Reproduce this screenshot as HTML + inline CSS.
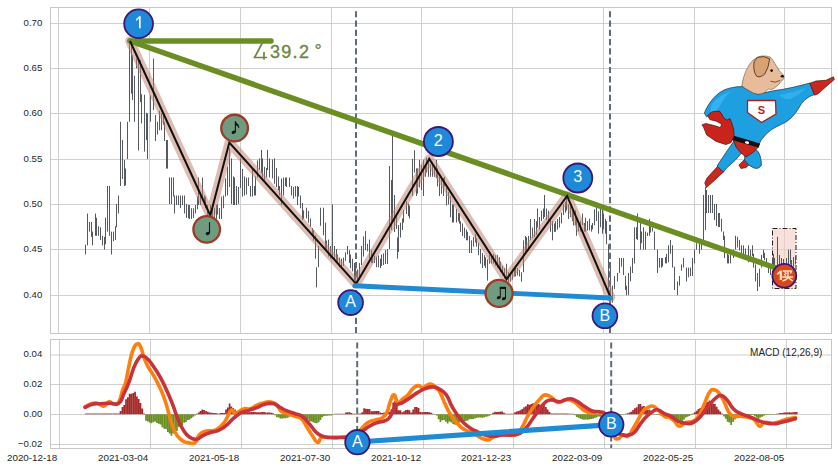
<!DOCTYPE html>
<html><head><meta charset="utf-8"><title>chart</title>
<style>html,body{margin:0;padding:0;background:#fff;}svg{display:block;font-family:"Liberation Sans",sans-serif;}</style>
</head><body>
<svg width="838" height="471" viewBox="0 0 838 471">
<rect x="0" y="0" width="838" height="471" fill="#fff"/>
<path d="M58.5 7.5V333.5M149.5 7.5V333.5M240.5 7.5V333.5M331.5 7.5V333.5M421.5 7.5V333.5M512.5 7.5V333.5M603.5 7.5V333.5M694.5 7.5V333.5M784.5 7.5V333.5M59.5 339.5V448.5M150.5 339.5V448.5M241.5 339.5V448.5M332.5 339.5V448.5M423.5 339.5V448.5M513.5 339.5V448.5M604.5 339.5V448.5M695.5 339.5V448.5M786.5 339.5V448.5M50.5 23.5H831.5M50.5 68.5H831.5M50.5 113.5H831.5M50.5 159.5H831.5M50.5 204.5H831.5M50.5 249.5H831.5M50.5 295.5H831.5M50.5 355.0H831.5M50.5 384.5H831.5M50.5 414.5H831.5M50.5 444.5H831.5" stroke="#c6c6c6" stroke-width="0.85" fill="none"/>
<rect x="772.5" y="228.5" width="23.5" height="60" fill="#f4cfc3" fill-opacity="0.62" stroke="#2a1a1a" stroke-width="1" stroke-dasharray="5 2 1 2"/>
<path d="M85.5 244.7V254.5M87.5 213.5V245.4M89.5 222.0V231.6M91.5 222.0V236.9M92.5 231.6V245.4M95.5 213.5V235.8M96.5 217.8V235.8M98.5 226.3V235.8M100.5 227.3V240.0M102.5 235.8V245.4M104.5 236.9V249.6M105.5 217.8V244.3M107.5 185.9V231.6M109.5 185.9V235.8M111.5 231.6V254.5M113.5 231.6V241.1M115.5 226.3V240.0M116.5 204.0V227.3M118.5 195.5V213.5M169.5 177.4V204.0M171.5 177.4V204.0M173.5 177.4V196.5M174.5 195.5V213.5M176.5 195.5V205.0M178.5 195.5V205.0M180.5 195.5V208.2M182.5 195.5V205.0M184.5 195.5V213.5M186.5 204.0V217.8M188.5 205.0V218.4M612.5 285.7V302.7M614.5 276.1V288.9M617.5 272.9V281.4M619.5 258.0V272.9M621.5 258.0V266.6M623.5 258.0V275.0M625.5 276.0V290.0M626.5 285.7V295.2M628.5 273.0V295.2M630.5 266.6V281.4M632.5 258.0V273.0M634.5 227.3V263.4M636.5 227.3V239.0M637.5 213.5V240.0M640.5 223.0V249.6M641.5 231.5V243.2M643.5 227.3V249.6M645.5 231.5V249.6M647.5 232.6V236.0M649.5 218.8V235.8M650.5 226.2V232.6M652.5 227.3V231.5M654.5 231.5V249.6M657.5 249.6V273.0M659.5 258.0V267.6M661.5 258.0V267.6M662.5 258.0V266.6M665.5 257.0V263.4M666.5 253.8V263.4M668.5 245.3V262.3M670.5 240.0V253.8M672.5 245.3V267.6M674.5 266.6V290.0M677.5 281.4V295.2M679.5 276.0V285.7M681.5 264.4V270.8M683.5 258.0V267.6M686.5 267.6V281.4M688.5 267.6V277.2M690.5 267.6V276.1M692.5 258.0V276.0M694.5 249.6V263.4M696.5 243.2V249.6M699.5 243.2V253.8M701.5 242.2V249.6M703.5 195.0V240.0M705.5 187.0V230.0M706.5 190.0V213.0M708.5 195.0V213.0M710.5 195.0V213.0M712.5 195.0V213.0M714.5 204.0V220.0M716.5 204.0V226.0M718.5 213.0V227.0M719.5 213.0V227.0M721.5 218.8V231.5M723.5 231.5V240.0M724.5 235.8V258.0M727.5 253.8V263.4M728.5 254.9V263.4M730.5 252.8V263.4M733.5 249.6V258.0M735.5 235.8V249.6M737.5 236.8V247.5M739.5 240.0V250.6M741.5 245.3V253.8M743.5 245.3V258.0M745.5 248.5V259.0M748.5 245.3V262.3M750.5 249.6V258.0M752.5 245.3V256.0M753.5 253.8V267.6M755.5 264.4V281.4M757.5 273.0V291.0M759.5 268.7V286.7M761.5 255.0V267.6M763.5 249.6V258.0M764.5 252.8V260.2M766.5 258.0V266.0M768.5 266.6V273.0M770.5 264.4V275.0M772.5 258.0V268.0M773.5 253.8V266.6M774.5 258.0V266.6M777.5 236.8V266.6M779.5 255.0V265.5M781.5 258.0V265.5M783.5 259.0V265.5M786.5 258.0V264.4M788.5 249.6V264.4M790.5 249.6V264.0M791.5 260.0V266.6M793.5 257.0V266.6M795.5 256.0V264.4M120.5 121.8V185.9M122.5 140.0V179.0M124.5 160.0V186.0M125.5 168.5V185.5M127.5 121.8V159.0M129.5 42.7V121.8M131.5 44.9V93.7M132.5 55.0V100.0M134.5 75.6V121.8M136.5 58.7V68.2M138.5 59.7V150.5M140.5 60.0V102.0M141.5 94.2V123.4M144.5 94.8V151.6M146.5 112.8V140.0M147.5 113.4V159.0M150.5 95.3V121.8M153.5 58.7V110.0M155.5 115.0V141.0M157.5 121.8V134.6M159.5 110.7V130.3M161.5 113.4V130.3M163.5 113.4V125.0M164.5 121.8V141.0M166.5 140.0V168.6M167.5 140.0V168.6M189.5 205.0V218.9M191.5 208.2V218.9M193.5 208.2V217.8M195.5 205.0V213.5M197.5 196.6V209.3M198.5 177.5V205.0M200.5 195.5V205.0M202.5 177.5V198.7M204.5 195.5V205.0M205.5 196.6V208.2M207.5 205.0V215.7M210.5 205.0V215.7M212.5 204.0V216.7M214.5 208.2V220.0M216.5 205.0V218.9M217.5 204.0V214.6M219.5 208.0V219.0M221.5 196.6V218.9M223.5 195.5V208.2M225.5 178.5V196.6M227.5 166.8V195.5M229.5 147.7V187.0M231.5 158.4V204.0M233.5 176.4V205.0M234.5 177.5V205.0M236.5 186.0V205.0M238.5 187.0V204.0M240.5 158.4V188.0M242.5 169.0V196.6M244.5 176.4V195.5M246.5 177.5V194.5M248.5 177.5V186.0M250.5 186.0V196.6M252.5 169.0V196.6M254.5 186.0V195.5M255.5 176.4V195.5M257.5 160.5V177.5M259.5 158.4V170.0M261.5 149.9V173.2M262.5 158.4V177.5M264.5 166.8V180.6M266.5 168.0V177.5M267.5 149.9V170.0M269.5 158.4V177.5M272.5 159.4V178.5M274.5 158.4V183.8M276.5 168.0V187.0M278.5 176.4V190.2M279.5 186.0V195.5M281.5 178.5V205.0M283.5 177.5V195.5M285.5 177.5V186.0M286.5 177.5V187.0M289.5 177.5V187.0M291.5 186.0V195.5M293.5 187.0V198.7M295.5 186.0V196.6M297.5 186.0V205.0M298.5 187.0V196.6M300.5 195.5V208.2M302.5 203.0V220.0M303.5 210.4V218.9M306.5 207.7V218.4M308.5 211.0V222.6M310.5 218.4V226.8M312.5 228.0V235.3M313.5 230.0V240.6M315.5 235.3V258.7M316.5 267.2V287.4M318.5 246.0V267.2M320.5 207.7V225.8M323.5 207.7V235.3M325.5 222.6V250.2M326.5 240.6V250.2M328.5 239.6V256.6M330.5 246.0V258.7M332.5 204.5V258.7M334.5 246.0V258.7M336.5 249.0V260.8M337.5 254.5V263.0M339.5 257.6V267.2M341.5 258.7V267.2M343.5 257.6V266.0M345.5 252.3V260.8M347.5 246.0V254.5M349.5 250.2V263.0M350.5 254.5V268.2M352.5 258.7V271.4M354.5 263.0V280.0M355.5 267.2V282.0M357.5 269.3V280.0M359.5 263.0V276.7M361.5 246.0V265.0M363.5 236.4V256.6M365.5 231.0V250.2M367.5 243.8V251.3M369.5 239.6V258.7M371.5 250.2V263.0M372.5 254.5V263.0M374.5 255.5V263.0M376.5 256.6V267.2M378.5 255.5V267.2M380.5 258.7V268.2M381.5 254.5V266.0M383.5 253.4V265.0M385.5 250.2V264.0M387.5 249.0V264.0M389.5 166.0V249.0M391.5 180.0V230.0M392.5 135.4V220.0M394.5 195.0V232.0M396.5 213.0V229.0M397.5 237.5V258.7M398.5 225.0V252.0M400.5 222.6V237.5M402.5 218.4V230.0M403.5 210.0V222.6M406.5 201.4V214.0M408.5 203.5V216.2M409.5 205.6V218.4M412.5 158.8V196.0M414.5 150.3V172.6M416.5 168.4V196.0M417.5 168.4V193.8M419.5 159.9V187.5M421.5 165.0V190.0M423.5 159.9V196.0M425.5 166.2V176.8M426.5 157.7V172.6M428.5 157.7V176.8M430.5 164.0V176.8M432.5 164.0V176.8M434.5 166.2V176.8M436.5 159.9V178.0M437.5 168.4V186.4M439.5 176.8V196.0M441.5 178.0V193.8M443.5 178.0V196.0M444.5 176.8V186.4M446.5 187.5V205.5M448.5 191.7V204.4M450.5 196.0V217.2M452.5 204.4V222.5M453.5 204.4V222.5M456.5 208.7V222.5M458.5 213.0V221.4M459.5 213.0V223.6M460.5 221.2V231.8M462.5 223.4V236.0M464.5 227.6V238.2M466.5 229.7V240.3M467.5 231.8V240.3M469.5 236.0V253.0M471.5 240.3V253.0M473.5 237.2V246.7M475.5 234.0V242.5M476.5 238.2V246.7M478.5 242.5V255.2M480.5 248.8V263.7M482.5 253.0V268.0M484.5 255.2V265.8M485.5 257.3V268.0M487.5 259.4V280.7M489.5 255.2V263.7M491.5 255.2V263.7M493.5 254.0V263.7M495.5 255.2V265.8M497.5 255.2V268.0M499.5 257.3V270.0M500.5 261.6V272.2M502.5 265.8V275.4M504.5 268.0V278.6M506.5 263.7V279.6M508.5 272.2V281.7M510.5 273.2V281.7M512.5 270.0V279.6M514.5 268.0V276.4M515.5 265.8V276.4M517.5 268.0V275.4M519.5 270.0V276.4M521.5 272.2V281.7M523.5 240.3V272.2M525.5 236.0V253.0M526.5 237.2V253.0M528.5 236.0V251.0M530.5 219.0V240.3M532.5 227.6V238.2M534.5 219.0V237.2M536.5 221.2V235.0M537.5 208.5V227.6M539.5 217.0V229.7M541.5 210.6V221.2M543.5 208.5V219.0M544.5 195.0V217.0M546.5 208.5V220.2M548.5 210.6V223.4M550.5 219.0V231.8M552.5 221.2V240.3M554.5 223.4V231.8M555.5 221.2V231.8M557.5 219.0V229.7M559.5 217.0V227.6M561.5 212.7V223.4M563.5 204.2V214.9M565.5 202.0V212.7M566.5 195.9V210.6M568.5 204.2V219.0M570.5 206.4V217.0M572.5 208.5V221.2M573.5 210.6V225.5M575.5 210.3V225.2M576.5 218.8V235.8M578.5 223.0V231.6M580.5 221.0V231.6M582.5 213.5V225.2M584.5 223.0V231.6M585.5 217.8V231.6M587.5 221.0V230.5M589.5 218.8V230.5M591.5 225.2V231.6M592.5 223.0V229.4M594.5 209.3V225.2M596.5 206.0V221.0M598.5 211.4V233.7M600.5 207.2V227.3M602.5 209.3V233.7M603.5 213.5V229.4M605.5 218.8V233.7M606.5 221.0V244.3M608.5 244.3V290.0M610.5 268.0V301.0" stroke="#4c5158" stroke-width="1" fill="none" opacity="0.95"/>
<path d="M356 11.2V333.5M357.2 342.4V448.5M610 11.2V333.5M611.2 342.4V448.5" stroke="#5f6b78" stroke-width="2" stroke-dasharray="6.15 3.14" fill="none"/>
<polyline points="130,41 210.3,215.5 229.3,142.5 356.1,283.8 429.3,159 506.6,279.2 567.1,195.9 610.6,297.3" fill="none" stroke="#bd7d65" stroke-opacity="0.5" stroke-width="9.5" stroke-linejoin="round" stroke-linecap="round"/>
<path d="M130 41L786 271.5" stroke="#6b8e23" stroke-width="5.5" stroke-linecap="round" fill="none"/>
<path d="M130 41H271" stroke="#6b8e23" stroke-width="5.5" stroke-linecap="round" fill="none"/>
<polyline points="130,41 210.3,215.5 229.3,142.5 356.1,283.8 429.3,159 506.6,279.2 567.1,195.9 610.6,297.3" fill="none" stroke="#111" stroke-width="2" stroke-linejoin="miter"/>
<g stroke="#6f8444" stroke-width="1.7" fill="none" stroke-linecap="round"><path d="M262 43.5L254.5 57.5H266.5M264 52.5V59"/></g>
<text x="270" y="57.6" font-size="18" fill="#6f8444" stroke="#6f8444" stroke-width="0.35" letter-spacing="1.3">39.2</text>
<text x="314.6" y="57.2" font-size="18" fill="#6f8444" stroke="#6f8444" stroke-width="0.3">°</text>
<path d="M354.8 285.8L610.2 298.0" stroke="#1f8bd2" stroke-width="4.9" stroke-linecap="round" fill="none"/>
<path d="M86.0 414.2V413.5M87.8 414.2V413.5M89.6 414.2V413.4M91.5 414.2V413.5M93.3 414.2V413.4M95.1 414.2V413.5M96.9 414.2V413.5M98.7 414.2V413.4M100.5 414.2V413.5M102.4 414.2V413.5M104.2 414.2V413.5M106.0 414.2V413.5M107.8 414.2V413.5M109.6 414.2V413.4M111.4 414.2V413.5M113.3 414.2V413.5M115.1 414.2V413.4M116.9 414.2V413.4M118.7 414.2V413.4M120.5 414.2V411.1M122.4 414.2V407.1M124.2 414.2V404.9M126.0 414.2V399.3M127.8 414.2V397.2M129.6 414.2V393.8M131.4 414.2V393.8M133.3 414.2V393.0M135.1 414.2V391.7M136.9 414.2V396.4M138.7 414.2V398.9M140.5 414.2V403.0M142.3 414.2V408.4M144.2 414.2V413.4M196.9 414.2V413.7M198.7 414.2V412.5M200.5 414.2V411.0M202.3 414.2V409.5M204.1 414.2V410.1M206.0 414.2V411.1M207.8 414.2V411.8M209.6 414.2V412.5M211.4 414.2V412.7M213.2 414.2V413.0M215.0 414.2V412.9M216.9 414.2V413.3M218.7 414.2V413.7M220.5 414.2V412.9M222.3 414.2V413.0M224.1 414.2V413.0M226.0 414.2V409.5M227.8 414.2V407.6M229.6 414.2V403.6M231.4 414.2V406.6M233.2 414.2V408.0M235.0 414.2V409.5M236.9 414.2V411.1M238.7 414.2V412.2M240.5 414.2V412.3M242.3 414.2V412.2M244.1 414.2V412.0M245.9 414.2V412.4M247.8 414.2V412.2M249.6 414.2V412.2M251.4 414.2V412.0M253.2 414.2V412.1M255.0 414.2V412.0M256.9 414.2V412.3M258.7 414.2V412.2M260.5 414.2V412.3M262.3 414.2V412.0M264.1 414.2V412.0M265.9 414.2V412.4M267.8 414.2V412.5M269.6 414.2V412.6M271.4 414.2V412.7M273.2 414.2V413.3M335.0 414.2V413.7M336.8 414.2V413.7M338.6 414.2V413.7M340.5 414.2V413.7M342.3 414.2V413.7M344.1 414.2V413.7M345.9 414.2V412.5M347.7 414.2V412.2M349.6 414.2V412.2M351.4 414.2V413.0M353.2 414.2V413.7M355.0 414.2V413.7M356.8 414.2V413.6M358.6 414.2V413.5M360.5 414.2V413.5M362.3 414.2V412.2M364.1 414.2V408.2M365.9 414.2V408.7M367.7 414.2V409.1M369.5 414.2V409.1M371.4 414.2V411.3M373.2 414.2V411.2M375.0 414.2V410.9M376.8 414.2V411.0M378.6 414.2V411.1M380.5 414.2V412.4M382.3 414.2V413.0M384.1 414.2V412.6M385.9 414.2V412.1M387.7 414.2V412.2M389.5 414.2V411.8M391.4 414.2V409.3M393.2 414.2V402.4M395.0 414.2V400.9M396.8 414.2V401.5M398.6 414.2V410.2M400.4 414.2V410.3M402.3 414.2V412.2M404.1 414.2V411.3M405.9 414.2V409.9M407.7 414.2V409.7M409.5 414.2V410.3M411.4 414.2V412.5M413.2 414.2V409.5M415.0 414.2V407.0M416.8 414.2V407.0M418.6 414.2V408.0M420.4 414.2V412.0M422.3 414.2V412.2M424.1 414.2V412.0M425.9 414.2V412.0M427.7 414.2V412.0M429.5 414.2V412.2M431.3 414.2V412.8M433.2 414.2V413.7M493.1 414.2V412.8M495.0 414.2V411.7M496.8 414.2V411.9M498.6 414.2V411.9M500.4 414.2V411.5M502.2 414.2V411.6M504.0 414.2V412.8M505.9 414.2V413.7M507.7 414.2V413.7M509.5 414.2V413.7M511.3 414.2V413.7M513.1 414.2V413.7M515.0 414.2V412.2M516.8 414.2V411.5M518.6 414.2V411.1M520.4 414.2V410.2M522.2 414.2V409.0M524.0 414.2V407.2M525.9 414.2V406.3M527.7 414.2V404.3M529.5 414.2V404.8M531.3 414.2V404.0M533.1 414.2V403.3M534.9 414.2V403.0M536.8 414.2V404.4M538.6 414.2V403.9M540.4 414.2V404.7M542.2 414.2V404.8M544.0 414.2V404.8M545.9 414.2V407.1M547.7 414.2V409.4M549.5 414.2V411.9M551.3 414.2V413.4M553.1 414.2V413.4M554.9 414.2V413.5M556.8 414.2V413.5M558.6 414.2V413.5M560.4 414.2V413.5M562.2 414.2V413.6M564.0 414.2V413.6M565.8 414.2V413.6M567.7 414.2V413.6M569.5 414.2V413.7M571.3 414.2V413.7M573.1 414.2V413.7M625.8 414.2V413.7M627.6 414.2V413.3M629.5 414.2V412.5M631.3 414.2V411.7M633.1 414.2V409.9M634.9 414.2V408.3M636.7 414.2V407.2M638.6 414.2V404.2M640.4 414.2V404.0M642.2 414.2V406.6M644.0 414.2V406.0M645.8 414.2V409.1M647.6 414.2V410.0M649.5 414.2V409.4M651.3 414.2V413.6M653.1 414.2V413.7M693.1 414.2V413.5M694.9 414.2V412.2M696.7 414.2V410.7M698.5 414.2V409.1M700.3 414.2V408.0M702.2 414.2V407.6M704.0 414.2V406.1M705.8 414.2V402.9M707.6 414.2V402.1M709.4 414.2V400.5M711.3 414.2V401.8M713.1 414.2V403.4M714.9 414.2V403.9M716.7 414.2V406.8M718.5 414.2V409.5M720.3 414.2V411.4M722.2 414.2V413.6M776.7 414.2V413.7M778.5 414.2V413.4M780.3 414.2V413.1M782.1 414.2V413.0M784.0 414.2V412.6M785.8 414.2V412.6M787.6 414.2V412.5M789.4 414.2V412.3M791.2 414.2V412.4M793.0 414.2V412.3M794.9 414.2V412.1M796.7 414.2V412.0" stroke="#a52828" stroke-width="1.7" fill="none"/>
<path d="M146.0 414.2V420.7M147.8 414.2V421.4M149.6 414.2V422.4M151.4 414.2V423.2M153.3 414.2V422.2M155.1 414.2V421.5M156.9 414.2V422.9M158.7 414.2V423.7M160.5 414.2V424.5M162.3 414.2V427.3M164.2 414.2V428.8M166.0 414.2V429.1M167.8 414.2V432.0M169.6 414.2V433.4M171.4 414.2V435.7M173.2 414.2V433.4M175.1 414.2V430.0M176.9 414.2V430.9M178.7 414.2V427.1M180.5 414.2V426.3M182.3 414.2V425.2M184.2 414.2V422.7M186.0 414.2V422.1M187.8 414.2V420.1M189.6 414.2V419.5M191.4 414.2V418.2M193.2 414.2V416.8M195.1 414.2V415.5M275.0 414.2V415.3M276.8 414.2V417.2M278.7 414.2V417.5M280.5 414.2V418.4M282.3 414.2V418.4M284.1 414.2V418.3M285.9 414.2V418.3M287.8 414.2V417.7M289.6 414.2V416.5M291.4 414.2V415.5M293.2 414.2V415.3M295.0 414.2V415.0M296.8 414.2V415.1M298.7 414.2V415.6M300.5 414.2V416.1M302.3 414.2V416.9M304.1 414.2V417.8M305.9 414.2V418.8M307.7 414.2V419.6M309.6 414.2V421.3M311.4 414.2V421.5M313.2 414.2V422.2M315.0 414.2V423.1M316.8 414.2V423.2M318.7 414.2V422.2M320.5 414.2V420.1M322.3 414.2V417.3M324.1 414.2V416.0M325.9 414.2V415.8M327.7 414.2V415.7M329.6 414.2V415.5M331.4 414.2V415.6M333.2 414.2V414.7M435.0 414.2V414.7M436.8 414.2V415.5M438.6 414.2V419.2M440.4 414.2V421.9M442.2 414.2V420.2M444.1 414.2V420.1M445.9 414.2V421.8M447.7 414.2V423.4M449.5 414.2V421.5M451.3 414.2V422.4M453.2 414.2V423.9M455.0 414.2V424.8M456.8 414.2V424.7M458.6 414.2V423.9M460.4 414.2V422.3M462.2 414.2V422.3M464.1 414.2V421.0M465.9 414.2V421.0M467.7 414.2V420.6M469.5 414.2V419.3M471.3 414.2V418.9M473.1 414.2V419.1M475.0 414.2V418.6M476.8 414.2V417.8M478.6 414.2V417.6M480.4 414.2V417.4M482.2 414.2V417.8M484.1 414.2V417.5M485.9 414.2V416.7M487.7 414.2V416.4M489.5 414.2V415.8M491.3 414.2V414.7M574.9 414.2V415.2M576.8 414.2V416.9M578.6 414.2V417.8M580.4 414.2V418.8M582.2 414.2V419.3M584.0 414.2V419.7M585.8 414.2V419.5M587.7 414.2V419.7M589.5 414.2V419.3M591.3 414.2V419.0M593.1 414.2V418.8M594.9 414.2V417.9M596.7 414.2V417.2M598.6 414.2V416.6M600.4 414.2V416.7M602.2 414.2V416.4M604.0 414.2V416.2M605.8 414.2V416.1M607.7 414.2V415.7M609.5 414.2V415.6M611.3 414.2V415.5M613.1 414.2V415.3M614.9 414.2V415.0M616.7 414.2V414.8M618.6 414.2V414.7M620.4 414.2V414.7M622.2 414.2V414.7M624.0 414.2V414.7M654.9 414.2V414.7M656.7 414.2V414.7M658.5 414.2V415.1M660.4 414.2V415.5M662.2 414.2V415.9M664.0 414.2V416.6M665.8 414.2V416.7M667.6 414.2V417.5M669.4 414.2V418.0M671.3 414.2V418.3M673.1 414.2V419.3M674.9 414.2V420.3M676.7 414.2V420.8M678.5 414.2V420.6M680.4 414.2V422.4M682.2 414.2V420.9M684.0 414.2V419.7M685.8 414.2V417.6M687.6 414.2V416.8M689.4 414.2V415.9M691.3 414.2V415.0M724.0 414.2V416.4M725.8 414.2V418.8M727.6 414.2V421.8M729.4 414.2V422.5M731.2 414.2V424.9M733.1 414.2V421.9M734.9 414.2V419.6M736.7 414.2V417.9M738.5 414.2V416.3M740.3 414.2V415.8M742.2 414.2V415.5M744.0 414.2V415.3M745.8 414.2V414.9M747.6 414.2V414.9M749.4 414.2V415.0M751.2 414.2V415.0M753.1 414.2V415.1M754.9 414.2V416.2M756.7 414.2V417.4M758.5 414.2V418.8M760.3 414.2V417.5M762.1 414.2V416.7M764.0 414.2V415.7M765.8 414.2V415.0M767.6 414.2V414.8M769.4 414.2V414.7M771.2 414.2V414.7M773.1 414.2V414.7M774.9 414.2V414.7" stroke="#6b8e23" stroke-width="1.7" fill="none"/>
<path d="M85.1 406.9C86.7 406.1 88.0 404.7 91.3 403.7C94.7 402.7 94.3 402.5 97.6 403.2C100.9 403.8 100.9 406.6 103.9 406.2C106.9 405.8 106.2 402.2 108.9 401.7C111.5 401.1 111.2 404.2 113.9 404.2C116.6 404.2 116.6 405.5 118.9 401.7C121.2 397.9 120.9 395.0 122.7 389.9C124.5 384.7 124.0 388.7 125.7 382.4C127.3 376.0 127.1 374.4 128.9 366.1C130.8 357.7 130.5 356.9 132.7 351.0C134.9 345.2 135.1 345.0 137.2 344.0C139.3 343.0 138.9 343.7 140.7 347.3C142.5 350.8 142.1 352.3 144.0 357.3C145.8 362.3 145.0 361.1 147.7 366.1C150.4 371.1 150.6 370.1 154.0 376.1C157.3 382.1 157.2 381.9 160.3 388.6C163.3 395.3 162.6 393.1 165.3 401.2C167.9 409.2 167.6 410.4 170.3 418.7C172.9 427.1 172.3 426.8 175.3 432.5C178.3 438.2 178.2 437.3 181.6 440.0C184.9 442.7 184.1 441.8 187.8 442.5C191.5 443.2 192.3 444.5 195.3 442.5C198.3 440.5 196.4 438.0 199.1 435.0C201.8 432.0 202.0 432.4 205.4 431.2C208.7 430.1 208.3 431.4 211.6 430.7C215.0 430.1 214.6 430.9 217.9 428.7C221.2 426.5 221.4 426.1 224.2 422.5C227.0 418.8 226.4 418.3 228.4 414.9C230.4 411.6 229.8 410.3 231.7 409.9C233.6 409.6 233.4 413.4 235.4 413.7C237.4 414.0 236.9 412.5 239.2 411.2C241.5 409.9 241.3 409.4 244.2 408.7C247.1 408.0 246.5 409.7 250.0 408.7C253.5 407.7 253.5 406.6 257.5 404.9C261.5 403.3 261.0 403.1 265.0 402.4C269.0 401.7 269.2 401.4 272.6 402.4C275.9 403.4 275.2 403.8 277.6 406.2C279.9 408.5 278.7 409.2 281.3 411.2C284.0 413.2 283.9 412.4 287.6 413.7C291.3 415.0 291.4 414.9 295.1 416.2C298.8 417.5 298.4 416.0 301.4 418.7C304.4 421.4 303.4 421.5 306.4 426.2C309.4 430.9 309.6 431.9 312.7 436.3C315.7 440.6 315.3 442.2 317.7 442.5C320.0 442.9 318.8 438.8 321.4 437.5C324.1 436.2 324.0 437.5 327.7 437.5C331.4 437.5 331.2 437.6 335.2 437.5C339.2 437.4 338.7 437.3 342.7 437.0C346.7 436.7 346.6 436.8 350.3 436.3C353.9 435.7 353.5 437.0 356.5 435.0C359.5 433.0 358.5 432.1 361.5 428.7C364.5 425.4 364.1 424.8 367.8 422.5C371.5 420.1 371.3 421.3 375.3 420.0C379.3 418.6 379.6 419.8 382.8 417.5C386.0 415.1 385.3 415.5 387.3 411.2C389.3 406.8 388.5 405.5 390.4 401.2C392.2 396.8 392.1 394.6 394.1 394.9C396.1 395.2 395.5 401.4 397.9 402.4C400.2 403.4 400.2 400.7 402.9 398.7C405.6 396.7 405.2 397.6 407.9 394.9C410.6 392.2 410.2 391.1 412.9 388.6C415.6 386.2 415.2 386.0 417.9 385.6C420.6 385.3 419.6 387.8 422.9 387.4C426.3 387.0 426.8 383.8 430.5 384.1C434.1 384.5 434.2 386.4 436.7 388.6C439.3 390.8 437.8 388.4 440.0 392.4C442.2 396.4 442.3 398.0 445.0 403.7C447.7 409.4 446.7 408.3 450.0 413.7C453.4 419.0 453.5 419.4 457.5 423.7C461.6 428.1 461.1 427.6 465.1 430.0C469.1 432.3 468.6 430.5 472.6 432.5C476.6 434.5 476.1 435.5 480.1 437.5C484.1 439.5 484.3 440.0 487.6 440.0C491.0 440.0 489.3 438.8 492.6 437.5C496.0 436.2 495.5 435.7 500.2 435.0C504.8 434.3 505.5 435.3 510.2 435.0C514.9 434.7 514.4 436.1 517.7 433.7C521.0 431.4 520.0 430.9 522.7 426.2C525.4 421.5 524.7 421.5 527.7 416.2C530.7 410.9 530.6 410.9 534.0 406.2C537.3 401.5 537.2 401.7 540.3 398.7C543.3 395.6 542.3 395.2 545.3 394.9C548.3 394.6 548.2 395.4 551.5 397.4C554.9 399.4 554.1 401.7 557.8 402.4C561.5 403.1 561.3 400.2 565.3 399.9C569.3 399.6 569.2 399.5 572.8 401.2C576.5 402.8 575.8 403.5 579.1 406.2C582.4 408.8 581.7 409.3 585.4 411.2C589.0 413.1 588.9 412.9 592.9 413.2C596.9 413.5 596.7 410.3 600.4 412.4C604.1 414.6 603.3 415.2 606.7 421.2C610.0 427.2 609.9 430.3 612.9 435.0C615.9 439.7 615.3 438.8 617.9 438.8C620.6 438.8 620.3 435.7 623.0 435.0C625.6 434.3 625.3 437.9 628.0 436.3C630.7 434.6 630.3 433.1 633.0 428.7C635.7 424.4 635.4 424.6 638.0 420.0C640.7 415.3 640.4 414.5 643.0 411.2C645.7 407.8 645.4 408.8 648.1 407.4C650.7 406.1 650.4 405.5 653.1 406.2C655.7 406.8 655.1 407.3 658.1 409.9C661.1 412.6 661.3 414.2 664.3 416.2C667.3 418.2 666.7 416.1 669.4 417.5C672.0 418.8 671.7 418.9 674.4 421.2C677.0 423.6 676.4 425.9 679.4 426.2C682.4 426.6 682.0 423.8 685.6 422.5C689.3 421.1 689.5 423.2 693.2 421.2C696.8 419.2 696.4 419.6 699.4 414.9C702.4 410.3 701.8 409.7 704.4 403.7C707.1 397.7 706.8 396.1 709.5 392.4C712.1 388.7 711.8 389.6 714.5 389.9C717.1 390.2 716.8 390.3 719.5 393.6C722.2 397.0 722.2 397.7 724.5 402.4C726.8 407.1 725.9 407.5 728.3 411.2C730.6 414.9 729.9 414.9 733.3 416.2C736.6 417.5 736.8 415.9 740.8 416.2C744.8 416.5 744.6 416.5 748.3 417.5C752.0 418.5 751.6 417.6 754.6 420.0C757.6 422.3 756.9 425.6 759.6 426.2C762.3 426.9 760.9 423.3 764.6 422.5C768.3 421.7 769.0 423.6 773.4 423.2C777.7 422.9 776.9 422.4 780.9 421.2C784.9 420.0 784.5 419.7 788.4 418.7C792.3 417.7 793.5 417.8 795.4 417.5" fill="none" stroke="#ff7f0e" stroke-width="3.6" stroke-linejoin="round" stroke-linecap="round"/>
<path d="M85.1 407.4C87.1 406.6 88.6 405.2 92.6 404.2C96.6 403.2 95.4 403.9 100.1 403.7C104.8 403.4 105.1 403.3 110.1 403.2C115.1 403.0 115.2 405.7 118.9 403.2C122.6 400.6 121.2 399.2 123.9 393.6C126.6 388.1 126.2 389.4 128.9 382.4C131.6 375.3 131.3 373.8 133.9 367.3C136.6 360.8 136.6 361.1 138.9 358.1C141.3 355.0 140.4 355.8 142.7 356.1C145.0 356.3 144.7 356.1 147.7 359.1C150.7 362.1 150.6 362.4 154.0 367.3C157.3 372.2 156.9 371.3 160.3 377.4C163.6 383.4 163.2 382.5 166.5 389.9C169.9 397.2 169.8 397.2 172.8 404.9C175.8 412.6 174.8 411.7 177.8 418.7C180.8 425.7 180.7 426.2 184.1 431.2C187.4 436.3 187.0 435.4 190.3 437.5C193.7 439.6 193.2 439.7 196.6 439.3C199.9 438.8 199.2 437.6 202.9 435.7C206.5 433.9 206.4 433.8 210.4 432.5C214.4 431.2 213.9 432.4 217.9 430.7C221.9 429.1 221.7 429.1 225.4 426.2C229.1 423.4 228.7 422.8 231.7 420.0C234.7 417.2 234.0 417.7 236.7 415.7C239.4 413.7 238.7 413.8 241.7 412.4C244.7 411.1 245.8 411.4 248.0 410.7C250.2 410.0 247.5 410.8 250.0 409.9C252.5 409.1 253.5 409.0 257.5 407.4C261.5 405.9 260.7 405.2 265.0 404.2C269.4 403.2 269.8 402.8 273.8 403.7C277.8 404.5 276.4 405.4 280.1 407.4C283.8 409.4 283.6 409.5 287.6 411.2C291.6 412.9 291.1 412.2 295.1 413.7C299.1 415.2 298.6 413.7 302.6 416.7C306.6 419.7 306.5 420.8 310.2 425.0C313.8 429.2 313.1 429.5 316.4 432.5C319.8 435.5 319.0 434.9 322.7 436.3C326.4 437.6 325.5 437.2 330.2 437.5C334.9 437.8 334.9 437.6 340.2 437.5C345.6 437.4 345.6 437.7 350.3 437.0C354.9 436.3 354.1 436.9 357.8 435.0C361.4 433.1 360.7 432.5 364.0 430.0C367.4 427.5 366.6 427.7 370.3 425.7C374.0 423.7 373.8 423.8 377.8 422.5C381.8 421.1 382.0 422.4 385.3 420.7C388.7 419.0 387.7 420.1 390.4 416.2C393.0 412.3 392.0 409.9 395.4 406.2C398.7 402.5 398.9 404.8 402.9 402.4C406.9 400.1 406.4 400.1 410.4 397.4C414.4 394.7 413.9 394.7 417.9 392.4C421.9 390.1 421.4 390.1 425.4 388.6C429.4 387.2 429.3 386.7 433.0 386.9C436.6 387.0 435.7 387.0 439.2 389.1C442.8 391.3 442.7 390.0 446.3 394.9C449.8 399.8 448.9 401.1 452.5 407.4C456.2 413.8 456.0 413.7 460.1 418.7C464.1 423.7 463.2 422.9 467.6 426.2C471.9 429.6 471.7 428.9 476.3 431.2C481.0 433.6 480.4 433.7 485.1 435.0C489.8 436.3 489.2 436.3 493.9 436.3C498.6 436.3 497.6 435.3 502.7 435.0C507.7 434.7 508.0 435.5 512.7 435.0C517.4 434.5 516.5 435.2 520.2 433.2C523.9 431.2 523.1 431.4 526.5 427.5C529.8 423.6 529.4 423.4 532.7 418.7C536.1 414.0 535.7 414.3 539.0 409.9C542.3 405.6 541.9 405.1 545.3 402.4C548.6 399.7 547.5 400.1 551.5 399.9C555.5 399.7 555.6 402.0 560.3 401.7C565.0 401.3 564.7 398.8 569.1 398.7C573.4 398.5 572.6 399.2 576.6 401.2C580.6 403.2 580.1 403.6 584.1 406.2C588.1 408.7 587.6 409.2 591.6 410.7C595.6 412.2 595.5 410.9 599.1 411.7C602.8 412.5 602.1 411.2 605.4 413.7C608.8 416.2 608.7 416.5 611.7 421.2C614.7 425.9 613.7 427.6 616.7 431.2C619.7 434.9 619.9 434.0 623.0 435.0C626.0 436.0 625.0 435.7 628.0 435.0C631.0 434.3 630.9 435.5 634.3 432.5C637.6 429.5 637.2 428.1 640.5 423.7C643.9 419.4 643.5 419.5 646.8 416.2C650.1 412.9 650.1 412.9 653.1 411.2C656.1 409.5 655.1 409.3 658.1 409.9C661.1 410.6 661.0 412.0 664.3 413.7C667.7 415.4 666.9 414.2 670.6 416.2C674.3 418.2 674.1 419.3 678.1 421.2C682.1 423.1 681.6 422.9 685.6 423.2C689.7 423.6 689.2 424.3 693.2 422.5C697.2 420.6 696.7 420.5 700.7 416.2C704.7 411.9 704.2 411.0 708.2 406.2C712.2 401.4 712.2 401.0 715.7 398.2C719.2 395.3 718.2 395.2 721.2 395.6C724.2 396.1 723.8 396.4 727.0 399.9C730.2 403.4 729.6 405.0 733.3 408.7C736.9 412.4 736.4 411.6 740.8 413.7C745.1 415.8 745.2 415.0 749.6 416.7C753.9 418.4 753.1 418.4 757.1 420.0C761.1 421.5 760.2 421.5 764.6 422.5C768.9 423.5 769.0 423.7 773.4 423.7C777.7 423.7 776.9 423.3 780.9 422.5C784.9 421.7 784.5 421.7 788.4 420.7C792.3 419.7 793.5 419.2 795.4 418.7" fill="none" stroke="#c8323a" stroke-width="3.6" stroke-linejoin="round" stroke-linecap="round"/>
<path d="M357.4 442.0L611.3 424.6" stroke="#1f8bd2" stroke-width="5.2" stroke-linecap="round" fill="none"/>
<rect x="50.5" y="7.5" width="781.0" height="326.0" fill="none" stroke="#c6c6c6" stroke-width="1"/>
<rect x="50.5" y="339.5" width="781.0" height="109.0" fill="none" stroke="#c6c6c6" stroke-width="1"/>
<circle cx="138.6" cy="23.8" r="14.4" fill="#2088d8" stroke="#3a1878" stroke-width="1.8"/>
<path d="M135.9 19.4L139.2 16.2H140.7V28.3H139.0V18.6L136.4 21.1Z" fill="#f4fbff"/>
<circle cx="438.4" cy="141.5" r="14.5" fill="#2088d8" stroke="#3a1878" stroke-width="1.8"/>
<text x="438.4" y="145.9" font-size="16.3" fill="#f4fbff" text-anchor="middle">2</text>
<circle cx="577.8" cy="178" r="14.5" fill="#2088d8" stroke="#3a1878" stroke-width="1.8"/>
<text x="577.8" y="182.4" font-size="16.3" fill="#f4fbff" text-anchor="middle">3</text>
<circle cx="350.6" cy="302.6" r="12.4" fill="#2088d8" stroke="#3a1878" stroke-width="1.8"/>
<text x="350.6" y="307.2" font-size="16" fill="#f4fbff" text-anchor="middle">A</text>
<circle cx="604.9" cy="315.8" r="12.4" fill="#2088d8" stroke="#3a1878" stroke-width="1.8"/>
<text x="604.9" y="320.5" font-size="16" fill="#f4fbff" text-anchor="middle">B</text>
<circle cx="357.4" cy="442.2" r="12.2" fill="#2088d8" stroke="#3a1878" stroke-width="1.8"/>
<text x="357.4" y="446.8" font-size="16" fill="#f4fbff" text-anchor="middle">A</text>
<circle cx="611.3" cy="424.4" r="12.2" fill="#2088d8" stroke="#3a1878" stroke-width="1.8"/>
<text x="611.3" y="429.0" font-size="16" fill="#f4fbff" text-anchor="middle">B</text>
<circle cx="234.6" cy="128.1" r="13.35" fill="#6f9c80" stroke="#9e3a25" stroke-width="2.3"/>
<circle cx="206.7" cy="229.4" r="13.3" fill="#6f9c80" stroke="#9e3a25" stroke-width="2.3"/>
<circle cx="499.1" cy="293.4" r="13.5" fill="#6f9c80" stroke="#9e3a25" stroke-width="2.3"/>
<g fill="#111" stroke="#111"><ellipse cx="233.6" cy="132.3" rx="2.1" ry="1.6" stroke="none" transform="rotate(-20 233.6 132.3)"/><path d="M235.4 132.3V121.6" stroke-width="1.1" fill="none"/><path d="M235.4 121.6C236.4 123.8 239.4 124.3 238.8 128C238.6 126 236.6 125.3 235.4 125Z" stroke-width="0.6"/></g>
<g fill="#111" stroke="#111"><ellipse cx="207.7" cy="233.4" rx="2.1" ry="1.6" stroke="none" transform="rotate(-20 207.7 233.4)"/><path d="M209.5 233.4V222.2" stroke-width="1.1" fill="none"/></g>
<g fill="#111" stroke="#111"><ellipse cx="498.7" cy="297.6" rx="2.0" ry="1.5" stroke="none" transform="rotate(-20 498.7 297.6)"/><ellipse cx="503.9" cy="298.7" rx="2.0" ry="1.5" stroke="none" transform="rotate(-20 503.9 298.7)"/><path d="M500.3 297.6V287.6M505.5 298.7V287.6" stroke-width="1" fill="none"/><path d="M499.8 286.8H506V289H499.8Z" stroke="none"/></g>
<circle cx="784.3" cy="275.8" r="11.9" fill="#d9481c" stroke="#3a1878" stroke-width="1.8"/>
<path d="M776.8 273.4L780 270.4H781.9V280H779.7V273.2L777.4 275.2Z" fill="#fbe3c5"/>
<g stroke="#fbe3c5" stroke-width="1.45" fill="none" stroke-linecap="round" stroke-linejoin="round"><path d="M783.2 270.9H791.6L790.7 272.9M785.2 272.6L786.2 273.5M784.4 274.4L785.4 275.3M782.6 276.9H792.6M788 272V276.4C787.8 278.6 785.8 280 783 280.7M788.6 278L792.2 280.6"/></g>
<text x="42.3" y="25.9" font-size="9.6" fill="#262626" text-anchor="end">0.70</text>
<text x="42.3" y="70.9" font-size="9.6" fill="#262626" text-anchor="end">0.65</text>
<text x="42.3" y="115.9" font-size="9.6" fill="#262626" text-anchor="end">0.60</text>
<text x="42.3" y="161.9" font-size="9.6" fill="#262626" text-anchor="end">0.55</text>
<text x="42.3" y="206.9" font-size="9.6" fill="#262626" text-anchor="end">0.50</text>
<text x="42.3" y="251.9" font-size="9.6" fill="#262626" text-anchor="end">0.45</text>
<text x="42.3" y="297.9" font-size="9.6" fill="#262626" text-anchor="end">0.40</text>
<text x="42.3" y="357.4" font-size="9.6" fill="#262626" text-anchor="end">0.04</text>
<text x="42.3" y="386.9" font-size="9.6" fill="#262626" text-anchor="end">0.02</text>
<text x="42.3" y="416.9" font-size="9.6" fill="#262626" text-anchor="end">0.00</text>
<text x="42.3" y="446.9" font-size="9.6" fill="#262626" text-anchor="end">−0.02</text>
<text x="57.3" y="461.3" font-size="9.85" fill="#262626" text-anchor="end">2020-12-18</text>
<text x="148.3" y="461.3" font-size="9.85" fill="#262626" text-anchor="end">2021-03-04</text>
<text x="239.3" y="461.3" font-size="9.85" fill="#262626" text-anchor="end">2021-05-18</text>
<text x="330.3" y="461.3" font-size="9.85" fill="#262626" text-anchor="end">2021-07-30</text>
<text x="421.3" y="461.3" font-size="9.85" fill="#262626" text-anchor="end">2021-10-12</text>
<text x="511.3" y="461.3" font-size="9.85" fill="#262626" text-anchor="end">2021-12-23</text>
<text x="602.3" y="461.3" font-size="9.85" fill="#262626" text-anchor="end">2022-03-09</text>
<text x="693.3" y="461.3" font-size="9.85" fill="#262626" text-anchor="end">2022-05-25</text>
<text x="784.3" y="461.3" font-size="9.85" fill="#262626" text-anchor="end">2022-08-05</text>
<text x="822.3" y="355.7" font-size="10" fill="#262626" text-anchor="end">MACD (12,26,9)</text>
<g id="dog" stroke-linejoin="round">
<!-- left boot -->
<path d="M718 166L724 171.5L717 178L711 183.5L706.5 187.5L704.8 183L707 178L712 172.5Z" fill="#c8281e" stroke="#4a100c" stroke-width="0.7"/>
<!-- left leg -->
<path d="M734 141L741.5 153L735 160.5L727 167.5L723.5 172L717 166L721 160L727 151Z" fill="#1e9fe0" stroke="#10304a" stroke-width="0.7"/>
<!-- right boot -->
<path d="M745 159L750 164L746 167.5L741 168.5L739 165L742 162Z" fill="#c8281e" stroke="#4a100c" stroke-width="0.7"/>
<!-- right leg -->
<path d="M745 153L756 149.5Q761 153 761.5 165Q759 169.5 754 168Q748 166 744.5 160Z" fill="#1e9fe0" stroke="#10304a" stroke-width="0.7"/>
<!-- trunks -->
<path d="M733 139L758.5 147L753 152.5L746 157L741 153L736 147Z" fill="#c8281e" stroke="#4a100c" stroke-width="0.7"/>
<!-- torso + right arm -->
<path d="M742.7 86.6Q737 86.5 732.5 87.5Q727 88.5 724 90Q719 92.5 715.5 96Q711.5 100 708.7 104.5Q706 108.5 704.4 113L706.5 116.8L712.5 112.5L719.4 112L723 117.5L727 120.5L731 122.5L733.5 130L732.5 136L759 145Q760.5 140 762.5 138.5Q765 135 768 132.5Q771 129.5 775 127.5Q781 124.5 786 122Q792 118 795.5 113Q799 108 801.5 103.5Q805 99 809.5 96.5L814.5 94.5L810 83Q801 85.5 792 87.5Q783 89.5 775 90.5L765 92.6L758 94.3L749.5 91Z" fill="#1e9fe0" stroke="#10304a" stroke-width="0.7"/>
<!-- highlights -->
<path d="M712 104Q719 95 731 91Q724 97 720 106Q716 112 712 116Q709 110 712 104Z" fill="#39b6f2" opacity="0.8"/>
<path d="M779 95Q792 93 806 88Q800 95 790 99Q783 100 779 95Z" fill="#39b6f2" opacity="0.7"/>
<!-- belt -->
<path d="M733 135.6L760 143.4L758.8 147.6L731.8 140Z" fill="#111"/>
<ellipse cx="747" cy="142.6" rx="2.2" ry="1.3" fill="#fff" transform="rotate(17 747 142.6)"/>
<!-- right glove -->
<path d="M809.8 83.3L816 81L826 80.3L833.5 76.8L834.3 79.5L827 85.8L818 93.8L814.6 95.2Z" fill="#c8281e" stroke="#4a100c" stroke-width="0.7"/>
<!-- left glove -->
<path d="M707.7 115.9Q709.5 112.8 712.5 111.7L719.4 111.1Q722 113.5 723.1 117L726.8 120.2L730 118.6L731.6 122.8L733.7 129.7L734.1 136.1L731.1 142.5L725.8 144.6L716.2 141.4L706.7 135L703.5 127.1L701.9 124.9L705.6 123.4L714.1 125.5L720.5 127.6L721.5 123.9L716.2 121.2L709.9 119.6Z" fill="#c8241c" stroke="#4a100c" stroke-width="0.7"/>
<!-- head -->
<path d="M741.8 85.8Q743 77 746.1 70.5Q749 64 752.9 60.3Q757 56.5 761.4 56Q766 55.5 770 57Q773 59.5 775 63.7L779.2 70.5L783.6 75.4Q784.5 77.5 783.5 79Q782.5 80.7 780.9 81.5L778.4 84.9L775 87.5Q773 89.3 771.6 89.5Q770 89.5 768.2 88.8L764.8 92.6Q761.5 94 758 94.3Q753.5 93.5 749.5 90.9Q745.5 89 741.8 85.8Z" fill="#e8bc9a" stroke="#5a3a20" stroke-width="0.5"/>
<!-- ear -->
<path d="M754.2 61.5Q752.8 70.5 756.3 75.9Q759.7 78.6 764.8 73.9Q769 67.1 769.6 58.8Q764 55.2 757.5 57.4Z" fill="#d9a273" stroke="#3a2614" stroke-width="0.8"/>
<circle cx="771.6" cy="70.6" r="1.3" fill="#111"/>
<ellipse cx="782.3" cy="76.3" rx="1.6" ry="1.3" fill="#111"/>
<path d="M770.5 81.2Q775 83.5 780 80.5" fill="none" stroke="#3a2614" stroke-width="0.7"/>
<!-- emblem -->
<path d="M747.5 100.5L775.5 100.5L776 114L761.5 122.5L747.5 112.5Z" fill="#fff" stroke="#a3221c" stroke-width="1.3"/>
<text x="761.4" y="114.2" font-size="11" font-weight="bold" fill="#b8241e" text-anchor="middle">S</text>
</g>

</svg>
</body></html>
